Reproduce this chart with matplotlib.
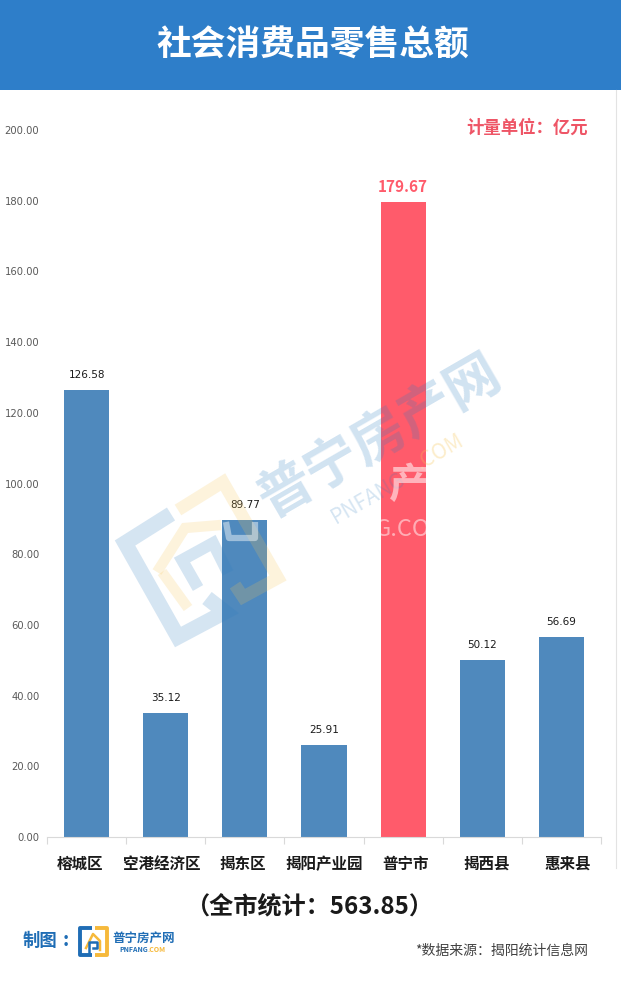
#!/usr/bin/env python3
# plot.py - retail sales by district, Jieyang
import matplotlib
matplotlib.use("Agg")
import matplotlib.pyplot as plt
from matplotlib.patches import Rectangle

plt.rcParams["font.family"] = ["Noto Sans CJK SC", "DejaVu Sans"]

W, H = 621, 983

# ---------- Data ----------
regions = ["榕城区", "空港经济区", "揭东区", "揭阳产业园", "普宁市", "揭西县", "惠来县"]
values = [126.58, 35.12, 89.77, 25.91, 179.67, 50.12, 56.69]
y_ticks = [0, 20, 40, 60, 80, 100, 120, 140, 160, 180, 200]
highlight = "普宁市"

BLUE = "#4F89BD"
RED = "#FF5B6B"
HEADER = "#2E7EC9"
LOGO_BLUE = "#1F6DB5"
LOGO_YEL = "#F6B93B"

fig = plt.figure(figsize=(W / 100, H / 100), dpi=100, facecolor="white")

# ---------- Bars ----------
# axes rect from pixel positions: x 47..601, y 130 (200) .. 837 (0)
ax = fig.add_axes([47 / W, 1 - 837 / H, 554 / W, 707 / H])
xs = list(range(len(regions)))
colors = [RED if r == highlight else BLUE for r in regions]
ax.bar(xs, values, width=0.57, color=colors, zorder=2)
ax.set_xlim(-0.5, len(regions) - 0.5)
ax.set_ylim(0, 200)

for s in ["top", "right", "left"]:
    ax.spines[s].set_visible(False)
ax.spines["bottom"].set_color("#D9D9D9")

ax.set_yticks(y_ticks)
ax.set_yticklabels([f"{v:.2f}" for v in y_ticks], fontsize=7.2, color="#595959",
                   family="DejaVu Sans")
ax.tick_params(axis="y", length=0, pad=5.5)
ax.set_xticks([i - 0.5 for i in range(len(regions) + 1)])
ax.set_xticklabels([])
ax.tick_params(axis="x", length=5, color="#D9D9D9")

for x, v, r in zip(xs, values, regions):
    if r == highlight:
        ax.annotate(f"{v:.2f}", (x, v), xytext=(0, 15), textcoords="offset pixels",
                    ha="center", va="center", fontsize=11, fontweight="bold", color=RED)
    else:
        ax.annotate(f"{v:.2f}", (x, v), xytext=(0, 15), textcoords="offset pixels",
                    ha="center", va="center", fontsize=7.5, color="#1A1A1A",
                    family="DejaVu Sans")

# ---------- Overlay in pixel coords: header, texts, watermark ----------
ov = fig.add_axes([0, 0, 1, 1], zorder=5)
ov.set_xlim(0, W)
ov.set_ylim(H, 0)
ov.axis("off")
ov.patch.set_alpha(0)

ov.add_patch(Rectangle((0, 0), W, 90, color=HEADER, lw=0))
ov.text(312.5, 45, "社会消费品零售总额", ha="center", va="center", fontsize=25,
        fontweight="bold", color="white")
ov.plot([615.5, 615.5], [90, 868], color="#E3E3E3", lw=0.8)

# category names sit in their own text boxes, not quite under the bars
for i, r in enumerate(regions):
    ov.text(80 + 81.3 * i, 864, r, ha="center", va="center", fontsize=11.2,
            fontweight="bold", color="#1A1A1A")

ov.text(588, 128, "计量单位：亿元", ha="right", va="center", fontsize=12.5,
        fontweight="bold", color="#EE5566")
ov.text(310, 907, "（全市统计：563.85）", ha="center", va="center", fontsize=17.4,
        fontweight="bold", color="#1A1A1A")
ov.text(588, 951, "*数据来源：揭阳统计信息网", ha="right", va="center", fontsize=10,
        color="#404040")

# credit + small logo
ov.text(23, 941, "制图", ha="left", va="center", fontsize=12.5, fontweight="bold",
        color=LOGO_BLUE)
ov.text(66, 941, ":", ha="center", va="center", fontsize=14, fontweight="bold",
        color=LOGO_BLUE)
ov.plot([92, 79.5, 79.5, 92], [928, 928, 955, 955], color=LOGO_BLUE, lw=2.8,
        solid_capstyle="butt")
ov.plot([95, 106.5, 106.5, 95], [928, 928, 955, 955], color=LOGO_YEL, lw=2.8,
        solid_capstyle="butt")
ov.plot([86, 93, 100, 100], [948, 934, 941, 950], color=LOGO_YEL, lw=1.8)
ov.plot([89, 89, 97, 97, 93], [952, 942, 942, 948, 948], color=LOGO_BLUE, lw=1.8)
ov.text(144, 938, "普宁房产网", ha="center", va="center", fontsize=9, fontweight="bold",
        color=LOGO_BLUE)
ov.text(148, 949, "PNFANG", ha="right", va="center", fontsize=5, fontweight="bold",
        color=LOGO_BLUE)
ov.text(148, 949, ".COM", ha="left", va="center", fontsize=5, fontweight="bold",
        color=LOGO_YEL)

# watermark (rotated logo and site name)
wm_blue = dict(color="#2E7EC0", alpha=0.2, solid_capstyle="butt", solid_joinstyle="miter")
wm_yel = dict(color="#F6C453", alpha=0.2, solid_capstyle="butt", solid_joinstyle="miter")
ov.plot([171, 125, 178, 225, 207], [514, 543, 637, 612, 598], lw=11, **wm_blue)
ov.plot([198, 182, 213, 228], [588, 560, 543, 573], lw=8.5, **wm_blue)
ov.plot([178, 223, 278, 243, 235], [510, 482, 578, 597, 585], lw=9, **wm_yel)
ov.plot([157, 185, 221], [572, 528, 525], lw=7.5, **wm_yel)
ov.plot([162, 188], [572, 608], lw=7.5, **wm_yel)
ov.text(380, 437, "普宁房产网", rotation=30, ha="center", va="center", fontsize=39,
        fontweight="bold", color="#2E7EC0", alpha=0.22)
ov.text(368, 498, "PNFANG", rotation=30, ha="center", va="center", fontsize=15,
        color="#2E7EC0", alpha=0.2)
ov.text(440, 452, ".COM", rotation=30, ha="center", va="center", fontsize=15,
        color="#F6C453", alpha=0.3)
ov.text(410, 486, "产", ha="center", va="center", fontsize=30, fontweight="bold",
        color="white", alpha=0.55)
ov.text(412, 530, "G.COM", ha="center", va="center", fontsize=17, color="white", alpha=0.5)
ov.plot([226, 229, 255, 255], [522, 538, 538, 522], color="white", alpha=0.45, lw=4.5,
        solid_capstyle="butt")

fig.savefig("out.png", dpi=100)
